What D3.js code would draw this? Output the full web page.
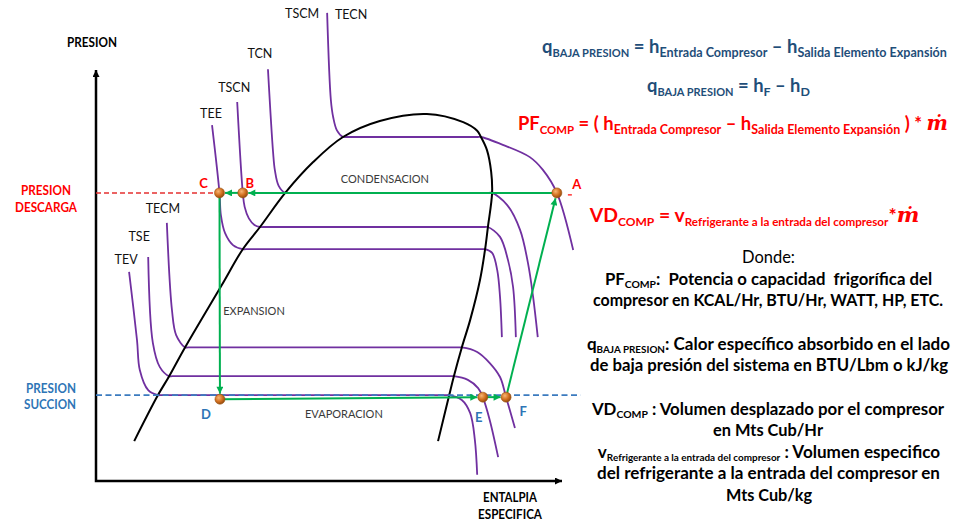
<!DOCTYPE html>
<html><head><meta charset="utf-8">
<script src="https://cdn.jsdelivr.net/npm/d3@7"></script>
<style>
html,body{margin:0;padding:0;background:#fff;}
svg{display:block;font-family:Lato,'Open Sans',sans-serif;}
text{white-space:pre;}
</style></head>
<body><svg id="c" width="966" height="531"></svg>
<script>
// ================= DATA (schematic units: enthalpy h 0–100, pressure P 0–100) =================
const pressureLevels = {descarga: 70.1, succion: 20.9};
const suctionLineEnd = 104;

// saturation dome (liquid line -> critical region -> vapour line)
const domeCurve = [[8.2,9.7],[13.3,20.9],[15.7,25.5],[19.1,32.5],[27.0,47.7],[31.5,56.4],[35.2,61.8],[40.6,70.1],
  [46.6,77.6],[53.0,83.7],[60.9,87.6],[71.0,89.3],[78.8,87.3],[81.8,85.2],[82.6,83.7],[83.9,80.5],[84.8,75.2],
  [85.0,70.1],[84.1,61.8],[83.5,56.4],[82.4,48.9],[80.3,39.2],[78.5,32.5],[76.8,25.5],[75.8,20.9],[73.4,9.7]];

// isotherms
const isothermNames = ["TEV","TSE","TECM","TEE","TSCN","TCN","TSCM"];
const isoTEV  = [[7.1,50.9],[8.8,34.3],[9.4,27.0],[11.2,22.1],[13.3,20.9],[14.0,20.9],[75.1,20.9],[75.8,20.9],[78.5,19.7],[80.3,16.5],[81.3,10.0],[81.8,1.5]];
const isoTSE  = [[11.2,54.5],[12.2,33.6],[13.7,27.7],[15.7,25.5],[16.4,25.5],[76.1,25.5],[76.8,25.5],[79.8,24.6],[82.0,22.6],[83.0,20.4],[84.5,14.8],[86.3,5.8]];
const isoTECM = [[15.2,62.8],[16.3,41.6],[17.2,35.5],[19.1,32.5],[19.8,32.5],[77.8,32.5],[78.5,32.5],[81.8,31.4],[84.5,28.7],[86.7,25.3],[88.0,20.4],[89.9,12.9]];
const isoTEE  = [[24.9,86.6],[26.5,70.1],[26.8,64.7],[27.7,60.3],[29.4,57.4],[31.5,56.4],[32.2,56.4],[82.8,56.4],[83.5,56.4],[85.0,55.5],[86.1,51.3],[86.7,44.8],[87.1,35.0]];
const isoTSCN = [[30.3,92.2],[31.5,70.1],[31.9,66.7],[32.8,63.9],[34.0,62.3],[35.2,61.8],[35.9,61.8],[83.4,61.8],[84.1,61.8],[86.7,59.4],[88.4,53.8],[89.5,47.2],[90.1,35.0]];
const isoTCN  = [[36.9,100.2],[38.0,80.0],[38.4,75.5],[39.2,71.8],[40.6,70.1],[41.3,70.1],[84.3,70.1],[85.0,70.1],[88.2,67.2],[91.0,61.1],[92.7,53.0],[93.8,44.8],[94.8,35.0]];
const isoTSCM = [[49.6,113.9],[50.4,92.7],[50.9,88.5],[51.7,85.3],[53.0,83.7],[53.7,83.7],[81.9,83.7],[82.6,83.7],[87.3,81.8],[93.1,78.8],[95.9,75.7],[98.9,70.1],[102.4,56.2]];
const isothermLabels = [["TEV"],["TSE"],["TECM"],["TEE"],["TSCN"],["TCN"],["TSCM","TECN"]];

// refrigeration cycle state points
const statePoints = ["A","B","C","D","E","F"];
const stateH = [98.9, 31.5, 26.5, 26.6, 83.0, 88.0];
const stateP = [70.1, 70.1, 70.1, 19.9, 20.4, 20.4];
const cyclePath = ["A","B","C","D","E","F","A"];

const processLabels = ["CONDENSACION","EXPANSION","EVAPORACION"];
const processH = [62.0, 33.9, 53.2];
const processP = [73.5, 41.4, 16.3];

// ================= LAYOUT / STYLE =================
const PURPLE="#7030a0", GREEN="#00b050", RED="#ff0000", BLUE="#2e75b6", NAVY="#1f4e79";
const x = d3.scaleLinear().domain([0,100]).range([96,562]);
const y = d3.scaleLinear().domain([0,100]).range([481,70]);
const svg = d3.select("#c");
const defs = svg.append("defs");
function marker(id,color,w,h){
  defs.append("marker").attr("id",id).attr("viewBox","0 0 10 10").attr("refX",10).attr("refY",5)
   .attr("markerWidth",w).attr("markerHeight",h).attr("markerUnits","userSpaceOnUse").attr("orient","auto-start-reverse")
   .append("path").attr("d","M0,0L10,5L0,10z").attr("fill",color);
}
marker("arrG",GREEN,8,7);
marker("arrK","#000",8,7);
const grad = defs.append("radialGradient").attr("id","ball").attr("cx","38%").attr("cy","35%").attr("r","70%");
grad.append("stop").attr("offset","0").attr("stop-color","#f7b574");
grad.append("stop").attr("offset","0.55").attr("stop-color","#d2701f");
grad.append("stop").attr("offset","1").attr("stop-color","#8c470c");

const line = d3.line().x(d=>x(d[0])).y(d=>y(d[1])).curve(d3.curveCatmullRom.alpha(0.5));

// axes
svg.append("path").attr("d", d3.line()([[x(0),y(100)],[x(0),y(0)],[x(100),y(0)]]))
  .attr("fill","none").attr("stroke","#000").attr("stroke-width",2.5)
  .attr("marker-start","url(#arrK)").attr("marker-end","url(#arrK)");

// isotherms
const isoData = [isoTEV,isoTSE,isoTECM,isoTEE,isoTSCN,isoTCN,isoTSCM];
svg.append("g").selectAll("path").data(isoData).join("path")
  .attr("d",line).attr("fill","none").attr("stroke",PURPLE).attr("stroke-width",1.8);

// dome
svg.append("path").attr("d",line(domeCurve)).attr("fill","none").attr("stroke","#000").attr("stroke-width",2);

// state lookup
const st = {}; statePoints.forEach((k,i)=>st[k]={h:stateH[i],P:stateP[i],px:x(stateH[i]),py:y(stateP[i])});
const R=5;

// dashed pressure lines
svg.append("line").attr("x1",x(0)).attr("x2",st.C.px-R).attr("y1",y(pressureLevels.descarga)).attr("y2",y(pressureLevels.descarga))
  .attr("stroke","#e53030").attr("stroke-width",1.5).attr("stroke-dasharray","5,3");
svg.append("line").attr("x1",x(0)).attr("x2",x(suctionLineEnd)).attr("y1",y(pressureLevels.succion)).attr("y2",y(pressureLevels.succion))
  .attr("stroke","#3b7bbf").attr("stroke-width",1.6).attr("stroke-dasharray","6,3.5");

// green cycle
const gCycle = svg.append("g");
for(let i=0;i<cyclePath.length-1;i++){
  const a=st[cyclePath[i]], b=st[cyclePath[i+1]];
  const dx=b.px-a.px, dy=b.py-a.py, L=Math.hypot(dx,dy);
  const ex=b.px-dx/L*(R+0.5), ey=b.py-dy/L*(R+0.5);
  gCycle.append("line").attr("x1",a.px).attr("y1",a.py).attr("x2",ex).attr("y2",ey)
    .attr("stroke",GREEN).attr("stroke-width",2).attr("marker-end","url(#arrG)");
}
// dots
svg.append("g").selectAll("circle").data(statePoints).join("circle")
  .attr("cx",k=>st[k].px).attr("cy",k=>st[k].py).attr("r",R)
  .attr("fill","url(#ball)").attr("stroke","#9a5414").attr("stroke-width",0.6);

// state labels
const stateLabelOffset = {A:[20,-9],B:[7,-10],C:[-16,-10],D:[-14,15],E:[-4,20],F:[17,14]};
const stateColor = {A:RED,B:RED,C:RED,D:BLUE,E:BLUE,F:BLUE};
svg.append("g").selectAll("text").data(statePoints).join("text")
  .attr("x",k=>st[k].px+stateLabelOffset[k][0]).attr("y",k=>st[k].py+stateLabelOffset[k][1])
  .attr("dy","0.36em").attr("text-anchor","middle").attr("font-weight",700).attr("font-size",13)
  .attr("fill",k=>stateColor[k]).text(k=>k);
// small red tick before A (as in reference)
svg.append("line").attr("x1",st.A.px+11).attr("x2",st.A.px+15).attr("y1",st.A.py+2).attr("y2",st.A.py+2)
  .attr("stroke",RED).attr("stroke-width",1.2);

// isotherm labels
const isoLabelOffset = [[[-3,-12]],[[-9,-21]],[[-4,-14]],[[-1,-12]],[[-3,-15]],[[-8,-16]],[[-25,1],[24,2]]];
isoData.forEach((pts,i)=>{
  isothermLabels[i].forEach((lab,j)=>{
    svg.append("text").attr("x",x(pts[0][0])+isoLabelOffset[i][j][0]).attr("y",y(pts[0][1])+isoLabelOffset[i][j][1])
      .attr("dy","0.36em").attr("text-anchor","middle").attr("font-size",12.5).attr("fill","#111").text(lab);
  });
});

// process labels
svg.append("g").selectAll("text").data(processLabels).join("text")
  .attr("x",(d,i)=>x(processH[i])).attr("y",(d,i)=>y(processP[i])).attr("dy","0.36em")
  .attr("text-anchor","middle").attr("font-size",11).attr("fill","#3a3a3a").text(d=>d);

// text at a given size, squeezed horizontally to a target width (Calibri-like proportions)
function squeeze(t,cx,by,w){
  const m=t.node().getComputedTextLength();
  if(m>0){ const s=Math.min(1.05,w/m); t.attr("transform",`translate(${cx},${by}) scale(${s},1) translate(${-cx},${-by})`); }
}
function label(txt,cx,by,w,size,color,weight){
  const t=svg.append("text").attr("x",cx).attr("y",by).attr("text-anchor","middle").attr("font-size",size)
    .attr("font-weight",weight).attr("fill",color).text(txt);
  squeeze(t,cx,by,w);
}
label("PRESION",92,47,50,13,"#000",700);
label("ENTALPIA",510,502,54,13,"#000",700);
label("ESPECIFICA",510,519,64,13,"#000",700);
label("PRESION",46,195,50,14,RED,700);
label("DESCARGA",46,212,62,14,RED,700);
label("PRESION",51,393,50,14,BLUE,700);
label("SUCCION",50,409,52,14,BLUE,700);

// rich text with subscripts
function richText(parts,o){
  const t=svg.append("text").attr("x",o.x).attr("y",o.y).attr("text-anchor","middle")
    .attr("fill",o.fill).attr("font-weight",o.weight==null?700:o.weight);
  const size=o.size; let shifted=false; const off=size*0.2;
  parts.forEach(p=>{
    const ts=t.append("tspan").text(p.t);
    ts.attr("font-size", p.sub? size*p.sub : (p.math? size*1.1 : size));
    if(p.sub && !shifted){ts.attr("dy",off); shifted=true;}
    else if(!p.sub && shifted){ts.attr("dy",-off); shifted=false;}
    if(p.math) ts.attr("font-family","'DejaVu Serif',serif").attr("font-style","italic");
  });
  squeeze(t,o.x,o.y,o.w);
}
const eqBaja = [{t:"q"},{t:"BAJA PRESION",sub:0.6},{t:" = h"},{t:"Entrada Compresor",sub:0.68},{t:" – h"},{t:"Salida Elemento Expansión",sub:0.68}];
const eqBaja2 = [{t:"q"},{t:"BAJA PRESION",sub:0.6},{t:" = h"},{t:"F",sub:0.68},{t:" – h"},{t:"D",sub:0.68}];
const eqPF = [{t:"PF"},{t:"COMP",sub:0.62},{t:" = ( h"},{t:"Entrada Compresor",sub:0.68},{t:" – h"},{t:"Salida Elemento Expansión",sub:0.68},{t:" ) * "},{t:"ṁ",math:true}];
const eqVD = [{t:"VD"},{t:"COMP",sub:0.62},{t:" = v"},{t:"Refrigerante a la entrada del compresor",sub:0.6},{t:"*"},{t:"ṁ",math:true}];
richText(eqBaja,{x:744.5,y:53,w:405,size:18,fill:NAVY});
richText(eqBaja2,{x:728.5,y:92,w:163,size:18,fill:NAVY});
richText(eqPF,{x:733,y:130,w:430,size:19,fill:RED});
richText(eqVD,{x:754.5,y:222,w:335,size:18.5,fill:RED});

const notes = [
  {p:[{t:"Donde:"}],cx:768.5,y:263,w:53,wt:400},
  {p:[{t:"PF"},{t:"COMP",sub:0.62},{t:":  Potencia o capacidad  frigorífica del"}],cx:768.5,y:285,w:327},
  {p:[{t:"compresor en KCAL/Hr, BTU/Hr, WATT, HP, ETC."}],cx:768,y:306,w:350},
  {p:[{t:"q"},{t:"BAJA PRESION",sub:0.58},{t:": Calor específico absorbido en el lado"}],cx:768.5,y:350,w:363},
  {p:[{t:"de baja presión del sistema en BTU/Lbm o kJ/kg"}],cx:769,y:371,w:358},
  {p:[{t:"VD"},{t:"COMP",sub:0.62},{t:" : Volumen desplazado por el compresor"}],cx:768,y:415,w:352},
  {p:[{t:"en Mts Cub/Hr"}],cx:768,y:436,w:110},
  {p:[{t:"v"},{t:"Refrigerante a la entrada del compresor",sub:0.58},{t:" : Volumen especifico"}],cx:769,y:458,w:364},
  {p:[{t:"del refrigerante a la entrada del compresor en"}],cx:768.5,y:479,w:343},
  {p:[{t:"Mts Cub/kg"}],cx:769,y:501,w:86}
];
notes.forEach(n=>richText(n.p,{x:n.cx,y:n.y,w:n.w,size:16.3,fill:"#000",weight:n.wt==null?700:n.wt}));
</script>
</body></html>
